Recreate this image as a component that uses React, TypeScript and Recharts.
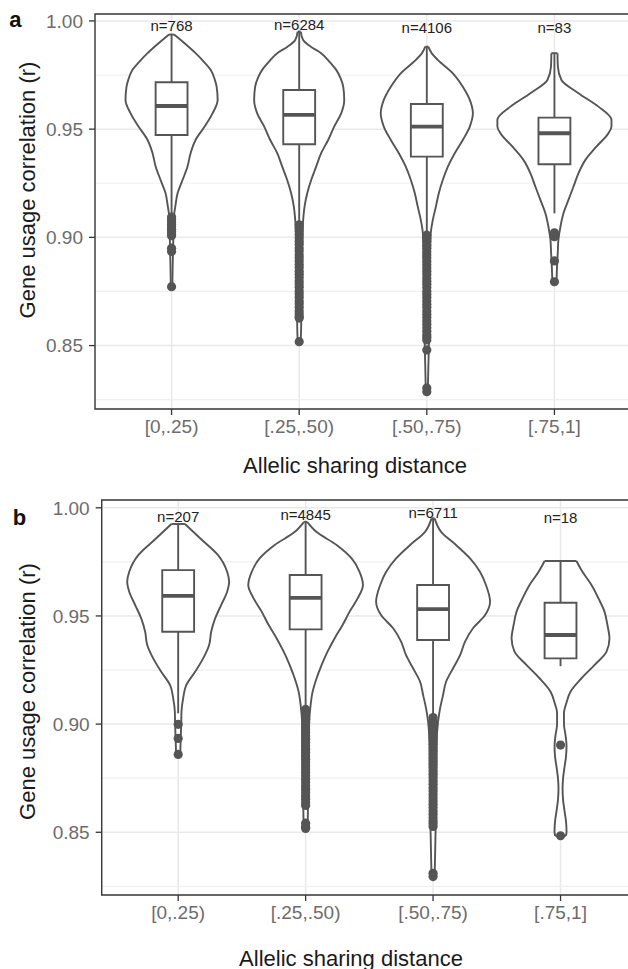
import React from 'react'
import {
  ComposedChart,
  Area,
  Scatter,
  XAxis,
  YAxis,
  CartesianGrid,
  ReferenceLine,
  ReferenceArea,
} from 'recharts'

const categories = ['[0,.25)', '[.25,.50)', '[.50,.75)', '[.75,1]']
const majorTicks = [0.85, 0.9, 0.95, 1.0]
const minorTicks = [0.825, 0.875, 0.925, 0.975]

// violin outlines: [r, half width in category units], read top to bottom
const violinA1 = [
  [0.9937, 0.02], [0.99, 0.095], [0.9851, 0.188], [0.981, 0.255], [0.9774, 0.306],
  [0.973, 0.338], [0.9696, 0.353], [0.9635, 0.361], [0.9573, 0.321], [0.9512, 0.259],
  [0.945, 0.188], [0.9389, 0.149], [0.9327, 0.125], [0.9265, 0.086], [0.9204, 0.047],
  [0.9142, 0.029], [0.9111, 0.021], [0.905, 0.016], [0.895, 0.012], [0.885, 0.008],
  [0.8772, 0.006],
]
const violinA2 = [
  [0.9951, 0.012], [0.9912, 0.031], [0.988, 0.094], [0.9851, 0.172], [0.981, 0.24],
  [0.9774, 0.29], [0.9735, 0.325], [0.9696, 0.345], [0.9635, 0.353], [0.9573, 0.329],
  [0.9512, 0.274], [0.945, 0.227], [0.9389, 0.172], [0.9327, 0.133], [0.9265, 0.094],
  [0.9204, 0.063], [0.9142, 0.042], [0.908, 0.031], [0.9, 0.024], [0.89, 0.02],
  [0.875, 0.016], [0.862, 0.016], [0.8518, 0.012],
]
const violinA3 = [
  [0.9881, 0.012], [0.985, 0.039], [0.982, 0.086], [0.9758, 0.204], [0.9696, 0.282],
  [0.9635, 0.337], [0.9573, 0.361], [0.9512, 0.337], [0.945, 0.282], [0.9389, 0.219],
  [0.9327, 0.165], [0.9265, 0.125], [0.9204, 0.094], [0.9142, 0.071], [0.908, 0.047],
  [0.9019, 0.031], [0.89, 0.024], [0.87, 0.02], [0.85, 0.016], [0.84, 0.012],
  [0.8287, 0.008],
]
const violinA4 = [
  [0.9851, 0.024], [0.9789, 0.027], [0.9727, 0.055], [0.9666, 0.188], [0.9604, 0.345],
  [0.9543, 0.447], [0.9512, 0.447], [0.9481, 0.423], [0.9419, 0.329], [0.9358, 0.243],
  [0.9296, 0.188], [0.9234, 0.149], [0.9173, 0.11], [0.9111, 0.071], [0.9049, 0.047],
  [0.8988, 0.031], [0.8927, 0.026], [0.886, 0.02], [0.8795, 0.016],
]
const violinB1 = [
  [0.9925, 0.053], [0.9859, 0.172], [0.9781, 0.313], [0.9704, 0.384], [0.9658, 0.4],
  [0.9612, 0.384], [0.955, 0.337], [0.9489, 0.29], [0.9427, 0.259], [0.9366, 0.243],
  [0.9304, 0.196], [0.9242, 0.133], [0.918, 0.063], [0.9119, 0.039], [0.9057, 0.026],
  [0.9, 0.024], [0.893, 0.02], [0.886, 0.016],
]
const violinB2 = [
  [0.9935, 0.012], [0.9889, 0.084], [0.9828, 0.243], [0.9766, 0.361], [0.9704, 0.423],
  [0.9643, 0.45], [0.9581, 0.408], [0.952, 0.345], [0.9458, 0.29], [0.9396, 0.227],
  [0.9335, 0.172], [0.9273, 0.125], [0.9212, 0.086], [0.915, 0.055], [0.9088, 0.039],
  [0.9, 0.027], [0.885, 0.024], [0.87, 0.02], [0.8518, 0.016],
]
const violinB3 = [
  [0.9951, 0.012], [0.9889, 0.063], [0.9828, 0.18], [0.9766, 0.29], [0.9704, 0.368],
  [0.9643, 0.415], [0.9566, 0.447], [0.9504, 0.408], [0.9443, 0.313], [0.9381, 0.251],
  [0.9319, 0.212], [0.9258, 0.157], [0.9196, 0.102], [0.9134, 0.078], [0.9073, 0.055],
  [0.9011, 0.039], [0.89, 0.027], [0.87, 0.024], [0.852, 0.02], [0.84, 0.016],
  [0.8295, 0.012],
]
const violinB4 = [
  [0.9754, 0.125], [0.9704, 0.172], [0.9643, 0.243], [0.9581, 0.298], [0.952, 0.345],
  [0.9458, 0.368], [0.9396, 0.384], [0.9335, 0.361], [0.9273, 0.266], [0.9212, 0.165],
  [0.915, 0.078], [0.91, 0.047], [0.905, 0.027], [0.9, 0.027], [0.895, 0.039],
  [0.89, 0.047], [0.885, 0.043], [0.88, 0.031], [0.875, 0.02], [0.87, 0.016],
  [0.865, 0.02], [0.86, 0.031], [0.855, 0.043], [0.8505, 0.047], [0.8484, 0.043],
]

// box plot stats
const q1A = [0.9473, 0.943, 0.9373, 0.9338]
const medianA = [0.9607, 0.9566, 0.9512, 0.9481]
const q3A = [0.9717, 0.9681, 0.9616, 0.9553]
const whiskerLowA = [0.9107, 0.9065, 0.902, 0.9111]
const whiskerHighA = [0.9937, 0.9951, 0.9881, 0.9851]

const q1B = [0.9427, 0.9438, 0.9389, 0.9304]
const medianB = [0.9593, 0.9584, 0.9532, 0.9412]
const q3B = [0.9712, 0.9689, 0.9643, 0.9561]
const whiskerLowB = [0.905, 0.9075, 0.902, 0.9268]
const whiskerHighB = [0.9925, 0.9935, 0.9951, 0.9754]

// outliers
const outA1 = [0.9094, 0.9082, 0.9071, 0.906, 0.9049, 0.9038, 0.9027, 0.9016, 0.9008, 0.895, 0.8935, 0.8772]
const outA2 = [
  0.9058, 0.9043, 0.9029, 0.9013, 0.8998, 0.8982, 0.8968, 0.8951, 0.8937, 0.892, 0.8906,
  0.8891, 0.8875, 0.8861, 0.8844, 0.883, 0.8815, 0.8798, 0.8784, 0.8769, 0.8752, 0.8738,
  0.8723, 0.8706, 0.8693, 0.8677, 0.866, 0.8646, 0.8633, 0.8627, 0.8518,
]
const outA3 = [
  0.901, 0.8995, 0.8981, 0.8964, 0.895, 0.8934, 0.8919, 0.8905, 0.8889, 0.8874, 0.8858,
  0.8843, 0.8829, 0.8812, 0.8797, 0.8783, 0.8768, 0.8751, 0.8737, 0.8722, 0.8706, 0.8691,
  0.8677, 0.866, 0.8645, 0.863, 0.8614, 0.8598, 0.8582, 0.8566, 0.855, 0.8538, 0.8526,
  0.848, 0.8304, 0.8287,
]
const outA4 = [0.9021, 0.9012, 0.9003, 0.8891, 0.8795]
const outB1 = [0.8999, 0.8934, 0.886]
const outB2 = [
  0.9068, 0.9053, 0.9038, 0.9022, 0.9007, 0.8991, 0.8977, 0.8961, 0.8946, 0.893, 0.8915,
  0.8899, 0.8884, 0.8869, 0.8853, 0.8838, 0.8822, 0.8807, 0.8792, 0.8776, 0.8761, 0.8745,
  0.873, 0.8714, 0.8699, 0.8684, 0.8668, 0.8653, 0.8637, 0.8624, 0.8542, 0.8526, 0.8518,
]
const outB3 = [
  0.903, 0.9015, 0.8999, 0.8984, 0.8968, 0.8953, 0.8938, 0.8922, 0.8907, 0.8891, 0.8876,
  0.886, 0.8845, 0.883, 0.8814, 0.8799, 0.8783, 0.8768, 0.8753, 0.8737, 0.8722, 0.8706,
  0.8691, 0.8675, 0.866, 0.8645, 0.8629, 0.8614, 0.8598, 0.8583, 0.8567, 0.8552, 0.854,
  0.8527, 0.831, 0.8295,
]
const outB4 = [0.8903, 0.8484]

const countsA = ['n=768', 'n=6284', 'n=4106', 'n=83']
const countPosA = [0.9977, 0.9982, 0.997, 0.997]
const countsB = ['n=207', 'n=4845', 'n=6711', 'n=18']
const countPosB = [0.9962, 0.9971, 0.9978, 0.9955]

const INK = '#555555'
const LINE_W = 1.9
const BOX_HALF = 0.125

interface PanelProps {
  violins: number[][][]
  outliers: number[][]
  q1: number[]
  median: number[]
  q3: number[]
  low: number[]
  high: number[]
  counts: string[]
  countPos: number[]
  domain: [number, number]
  marginLeft: number
  marginRight: number
}

function Panel({ violins, outliers, q1, median, q3, low, high, counts, countPos, domain, marginLeft, marginRight }: PanelProps) {
  const violinData = violins.map((prof, i) =>
    prof.map(([r, w]) => ({ r, band: [i + 1 - w, i + 1 + w] }))
  )
  const outlierData = outliers.flatMap((vals, i) => vals.map(r => ({ x: i + 1, r })))
  const countData = counts.map((label, i) => ({ x: i + 1, r: countPos[i], label }))

  return (
    <ComposedChart
      width={640}
      height={450}
      layout="vertical"
      margin={{ top: 14, right: marginRight, bottom: 11, left: marginLeft }}
    >
      <CartesianGrid stroke="#e9e9e9" strokeWidth={1.5} />
      {minorTicks.map(v => (
        <ReferenceLine key={'m' + v} y={v} stroke="#efefef" strokeWidth={1.2} zIndex={-90} />
      ))}
      <XAxis
        type="number"
        dataKey="x"
        domain={[0.4, 4.6]}
        allowDataOverflow
        ticks={[1, 2, 3, 4]}
        interval={0}
        tickFormatter={v => categories[v - 1]}
        axisLine={false}
        tickLine={{ stroke: '#333', strokeWidth: 1.3 }}
        tickSize={6}
        tickMargin={5}
        tick={{ fill: '#6c6c6c', fontSize: 19 }}
        height={30}
      />
      <YAxis
        type="number"
        dataKey="r"
        domain={domain}
        allowDataOverflow
        reversed
        ticks={majorTicks}
        interval={0}
        tickFormatter={v => v.toFixed(2)}
        axisLine={false}
        tickLine={{ stroke: '#333', strokeWidth: 1.3 }}
        tickSize={6}
        tickMargin={6}
        tick={{ fill: '#6c6c6c', fontSize: 19 }}
        width={45}
      />
      {violinData.map((d, i) => (
        <Area
          key={'v' + i}
          data={d}
          dataKey="band"
          type="monotone"
          stroke={INK}
          strokeWidth={LINE_W}
          fill="#ffffff"
          fillOpacity={1}
          dot={false}
          activeDot={false}
          isAnimationActive={false}
          zIndex={100}
        />
      ))}
      {violins.map((prof, i) => {
        const top = prof[0]
        const bottom = prof[prof.length - 1]
        return [top, bottom].map(([r, w], j) => (
          <ReferenceLine
            key={'e' + i + j}
            segment={[{ x: i + 1 - w, y: r }, { x: i + 1 + w, y: r }]}
            stroke={INK}
            strokeWidth={LINE_W}
            zIndex={110}
          />
        ))
      })}
      {q1.map((_, i) => (
        <ReferenceLine
          key={'wh' + i}
          segment={[{ x: i + 1, y: q3[i] }, { x: i + 1, y: high[i] }]}
          stroke={INK}
          strokeWidth={LINE_W}
          zIndex={120}
        />
      ))}
      {q1.map((_, i) => (
        <ReferenceLine
          key={'wl' + i}
          segment={[{ x: i + 1, y: q1[i] }, { x: i + 1, y: low[i] }]}
          stroke={INK}
          strokeWidth={LINE_W}
          zIndex={120}
        />
      ))}
      {q1.map((_, i) => (
        <ReferenceArea
          key={'b' + i}
          x1={i + 1 - BOX_HALF}
          x2={i + 1 + BOX_HALF}
          y1={q1[i]}
          y2={q3[i]}
          fill="#ffffff"
          fillOpacity={1}
          stroke={INK}
          strokeWidth={LINE_W}
          zIndex={200}
        />
      ))}
      {median.map((m, i) => (
        <ReferenceLine
          key={'md' + i}
          segment={[{ x: i + 1 - BOX_HALF, y: m }, { x: i + 1 + BOX_HALF, y: m }]}
          stroke={INK}
          strokeWidth={3.8}
          zIndex={210}
        />
      ))}
      <Scatter
        data={outlierData}
        isAnimationActive={false}
        zIndex={600}
        shape={(p: any) => <circle cx={p.cx} cy={p.cy} r={4.6} fill={INK} />}
      />
      <Scatter
        data={countData}
        isAnimationActive={false}
        zIndex={700}
        shape={(p: any) => (
          <text x={p.cx} y={p.cy} textAnchor="middle" dominantBaseline="central" fontSize={15} fill="#222">
            {p.payload?.label}
          </text>
        )}
      />
      <ReferenceArea
        x1={0.4}
        x2={4.6}
        y1={domain[0]}
        y2={domain[1]}
        fill="none"
        stroke="#3a3a3a"
        strokeWidth={1.4}
        ifOverflow="visible"
        zIndex={800}
      />
    </ComposedChart>
  )
}

export default function App() {
  return (
    <div
      style={{
        position: 'absolute',
        left: 0,
        top: 0,
        width: 628,
        height: 969,
        overflow: 'hidden',
        background: '#fff',
        fontFamily: '"Liberation Sans", Arial, sans-serif',
      }}
    >
      <div style={{ position: 'absolute', left: 0, top: 0 }}>
        <Panel
          violins={[violinA1, violinA2, violinA3, violinA4]}
          outliers={[outA1, outA2, outA3, outA4]}
          q1={q1A}
          median={medianA}
          q3={q3A}
          low={whiskerLowA}
          high={whiskerHighA}
          counts={countsA}
          countPos={countPosA}
          domain={[0.8207, 1.0032]}
          marginLeft={50}
          marginRight={9}
        />
      </div>
      <div style={{ position: 'absolute', left: 0, top: 486 }}>
        <Panel
          violins={[violinB1, violinB2, violinB3, violinB4]}
          outliers={[outB1, outB2, outB3, outB4]}
          q1={q1B}
          median={medianB}
          q3={q3B}
          low={whiskerLowB}
          high={whiskerHighB}
          counts={countsB}
          countPos={countPosB}
          domain={[0.821, 1.0036]}
          marginLeft={56.7}
          marginRight={3}
        />
      </div>
      <svg
        width={628}
        height={969}
        style={{ position: 'absolute', left: 0, top: 0, pointerEvents: 'none' }}
      >
        <text x={9.3} y={26.7} fontSize={22} fontWeight="bold" fill="#111">a</text>
        <text x={12.7} y={525} fontSize={22} fontWeight="bold" fill="#111">b</text>
        <text x={35} y={190} transform="rotate(-90, 35, 190)" textAnchor="middle" fontSize={22} fill="#1a1a1a">
          Gene usage correlation (r)
        </text>
        <text x={35} y={691.5} transform="rotate(-90, 35, 691.5)" textAnchor="middle" fontSize={22} fill="#1a1a1a">
          Gene usage correlation (r)
        </text>
        <text x={355} y={473} textAnchor="middle" fontSize={22} fill="#1a1a1a">
          Allelic sharing distance
        </text>
        <text x={351} y={966} textAnchor="middle" fontSize={22} fill="#1a1a1a">
          Allelic sharing distance
        </text>
      </svg>
    </div>
  )
}
